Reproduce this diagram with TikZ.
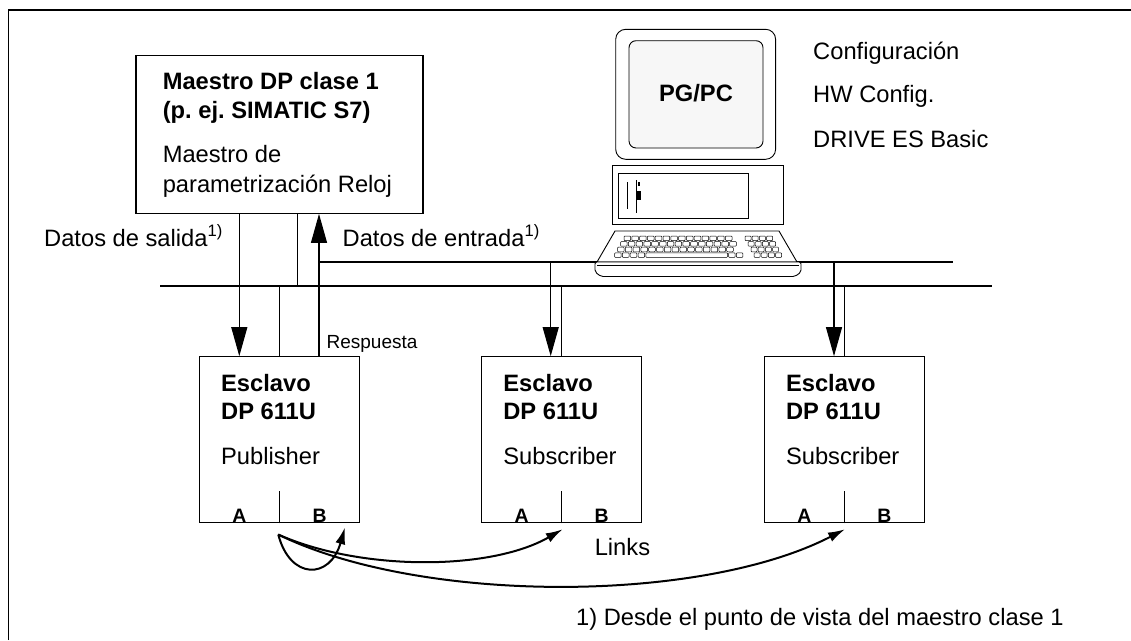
\documentclass[tikz,border=0pt]{standalone}
\usepackage{fontspec}
\setmainfont{Liberation Sans}
\usetikzlibrary{arrows.meta}
\frenchspacing

\tikzset{
  txt/.style={font=\fontsize{23.7}{28}\selectfont, inner sep=0pt, anchor=base west},
  btxt/.style={txt, font=\fontsize{23.7}{28}\selectfont\bfseries},
  smalltxt/.style={txt, font=\fontsize{19}{22}\selectfont},
  port/.style={inner sep=0pt, anchor=base, font=\fontsize{19.4}{22}\selectfont\bfseries},
  unitbox/.style={draw, line width=1.1pt, minimum width=160pt, minimum height=166pt, inner sep=0pt},
  link/.style={line width=1.1pt},
  busline/.style={line width=1.6pt},
  bigarr/.style={link, -{Triangle[length=29pt,width=16pt]}},
  curvarr/.style={line width=2pt, -{Latex[length=17pt,width=10pt]}},
  key/.style={draw, fill=white, line width=0.5pt, rounded corners=0.8pt},
  pcline/.style={draw, line width=0.9pt}
}

\begin{document}
\begin{tikzpicture}[x=1pt,y=-1pt]
\useasboundingbox (0,0) rectangle (1131,640);

% outer frame
\draw[line width=1.2pt] (8.4,640) -- (8.4,10) -- (1131,10);

% class 1 master
\node[draw, line width=1.1pt, minimum width=287pt, minimum height=158.3pt, inner sep=0pt] (m) at (279.5,134.2) {};
\node[btxt] (m1) at (162.6,89.3) {Maestro DP clase 1};
\node[btxt] (m2) at (162.6,118.3) {(p. ej. SIMATIC S7)};
\node[txt] (m3) at (162.6,162.7) {Maestro de};
\node[txt] (m4) at (162.6,192.7) {parametrización Reloj};

% slaves
\node[unitbox] (s1) at (279.5,439.7) {};
\node[unitbox] (s2) at (561.7,439.7) {};
\node[unitbox] (s3) at (844.4,439.7) {};

\foreach \s/\role in {s1/Publisher, s2/Subscriber, s3/Subscriber} {
  \node[btxt] (\s t1) at ([xshift=22pt]\s.west |- 0,391) {Esclavo};
  \node[btxt] (\s t2) at ([xshift=22pt]\s.west |- 0,419.3) {DP 611U};
  \node[txt]  (\s t3) at ([xshift=22pt]\s.west |- 0,464) {\role};
  \draw[link] (\s.south) -- ++(0,-32.7);
  \node[port] (\s a) at ([xshift=-40pt,yshift=1.2pt]\s.south) {A};
  \node[port] (\s b) at ([xshift=40pt,yshift=1.2pt]\s.south) {B};
}

% bus lines
\coordinate (busL) at (160,285.7);
\coordinate (busR) at (991.5,285.7);
\coordinate (l2L) at (319,262);
\coordinate (l2R) at (952.7,262);
\draw[busline] (busL) -- (busR);
\draw[busline] (l2L) -- (l2R);

% master <-> bus connections
\draw[bigarr] ([xshift=-40.2pt]m.south) -- ([xshift=-40.2pt]s1.north);
\draw[link] ([xshift=17.8pt]m.south) -- ([xshift=17.8pt]m.south |- busL);
\draw[bigarr] ([xshift=39.5pt]s1.north) -- ([xshift=39.5pt]m.south);
\draw[link] (s1.north |- busL) -- (s1.north);
\draw[bigarr] ([xshift=-11pt]s2.north |- l2L) -- ([xshift=-11pt]s2.north);
\draw[link] (s2.north |- busL) -- (s2.north);
\draw[bigarr] ([xshift=-10.4pt]s3.north |- l2L) -- ([xshift=-10.4pt]s3.north);
\draw[link] (s3.north |- busL) -- (s3.north);

% labels
\node[txt] (dout) at (44,246) {Datos de salida\textsuperscript{1)}};
\node[txt] (din) at (342.5,246) {Datos de entrada\textsuperscript{1)}};
\node[smalltxt] (resp) at (326.4,348.3) {Respuesta};
\node[txt] (links) at (594.6,555.7) {Links};
\node[txt] (note) at (576,625) {1) Desde el punto de vista del maestro clase 1};

% links between slaves
\coordinate (lk) at ([xshift=-1.2pt,yshift=-11.3pt]s1.south);
\draw[curvarr] (lk) .. controls (290,580) and (330,580) .. ([xshift=65.5pt,yshift=-4pt]s1.south);
\draw[curvarr] (lk) .. controls (360,571) and (490,571) .. ([xshift=1pt,yshift=-6pt]s2.south);
\draw[curvarr] (lk) .. controls (420,604) and (700,604) .. ([xshift=0.6pt,yshift=-6pt]s3.south);

% PG/PC: monitor
\draw[pcline, rounded corners=10pt, fill=white] (615.7,29.3) rectangle (775.6,159.3);
\draw[pcline, rounded corners=7pt, fill=gray!6] (629,40.7) rectangle (763,148);
\node[btxt, anchor=base] (pg) at (696,101) {PG/PC};

% PG/PC: system unit
\draw[pcline, fill=white] (612,165.7) rectangle (783.6,224);
\draw[line width=0.7pt] (618.5,173) rectangle (748.5,218);
\draw[line width=0.7pt] (627.7,182) -- (627.7,209);
\draw[line width=0.7pt] (636,180) -- (636,212.7);
\fill (636,190.7) rectangle (640.7,200);
\fill (638,182) rectangle (640,185.7);

% PG/PC: keyboard
\draw[pcline, fill=white] (615,231) -- (779,231) -- (797,262) -- (597,262) -- cycle;
\draw[pcline, fill=white, rounded corners=2pt] (595,262) -- (595,272) -- (601,276.5) -- (795,276.5) -- (801,272) -- (801,262) -- cycle;
\draw[line width=0.5pt] (597,265) -- (799,265);
\foreach \r/\x/\n in {0/624/14, 1/620.5/15, 2/617.5/15} {
  \foreach \k in {1,...,\n} {
    \pgfmathsetmacro\xx{\x+(\k-1)*7.8}
    \draw[key] (\xx,236+\r*5.6) rectangle ++(6.6,4.6);
  }
}
\foreach \k in {1,...,4} {
  \pgfmathsetmacro\xx{614.6+(\k-1)*7.8}
  \draw[key] (\xx,252.8) rectangle ++(6.6,4.6);
}
\draw[key] (645.8,252.8) rectangle (727.5,257.4);
\foreach \k in {1,2} {
  \pgfmathsetmacro\xx{728.5+(\k-1)*7.8}
  \draw[key] (\xx,252.8) rectangle ++(6.6,4.6);
}
\foreach \r in {0,...,3} {
  \foreach \k in {1,...,4} {
    \pgfmathsetmacro\xx{745+\r*3+(\k-1)*7.2}
    \draw[key] (\xx,236+\r*5.6) rectangle ++(6,4.6);
  }
}

% tools on the PG/PC
\node[txt] (c1) at (813,59.3) {Configuración};
\node[txt] (c2) at (813,102.7) {HW Config.};
\node[txt] (c3) at (813,147.7) {DRIVE ES Basic};
\end{tikzpicture}
\end{document}
